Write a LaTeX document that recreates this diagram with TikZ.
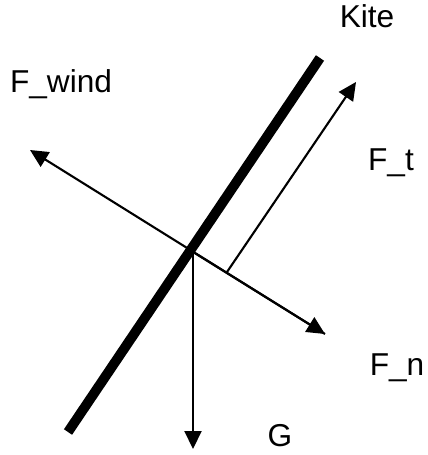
\documentclass[tikz,border=0pt]{standalone}
\usepackage{fontspec}
\setmainfont{Liberation Sans}
\usetikzlibrary{arrows.meta}
\tikzset{force/.style={line width=1.2pt,-{Triangle[length=3.6mm,width=3.4mm]}},
  lbl/.style={inner sep=0pt,font=\fontsize{18}{21}\selectfont}}

\begin{document}
\begin{tikzpicture}
\useasboundingbox (-3.86,-4.06) rectangle (4.68,5.04);
\coordinate (o) at (0,0);
\coordinate (kt) at (2.54,3.88);\coordinate (kb) at (-2.50,-3.60);
\coordinate (fw) at (-3.26,2.04);\coordinate (fn) at (2.64,-1.64);
\coordinate (ft0) at (0.68,-0.40);\coordinate (ft) at (3.26,3.40);
\coordinate (g) at (0,-3.94);
\draw[line width=5.6pt] (kb)--(kt);
\draw[force] (fn)--(fw);\draw[force] (o)--(fn);
\draw[force] (ft0)--(ft);
\draw[force] (o)--(g);
\node[lbl] (kite) at (3.48,4.72){Kite};
\node[lbl] (lw) at (-2.64,3.36){F\_wind};
\node[lbl] (lt) at (3.96,1.78){F\_t};
\node[lbl] (ln) at (4.08,-2.32){F\_n};
\node[lbl] (lg) at (1.74,-3.68){G};
\end{tikzpicture}
\end{document}
